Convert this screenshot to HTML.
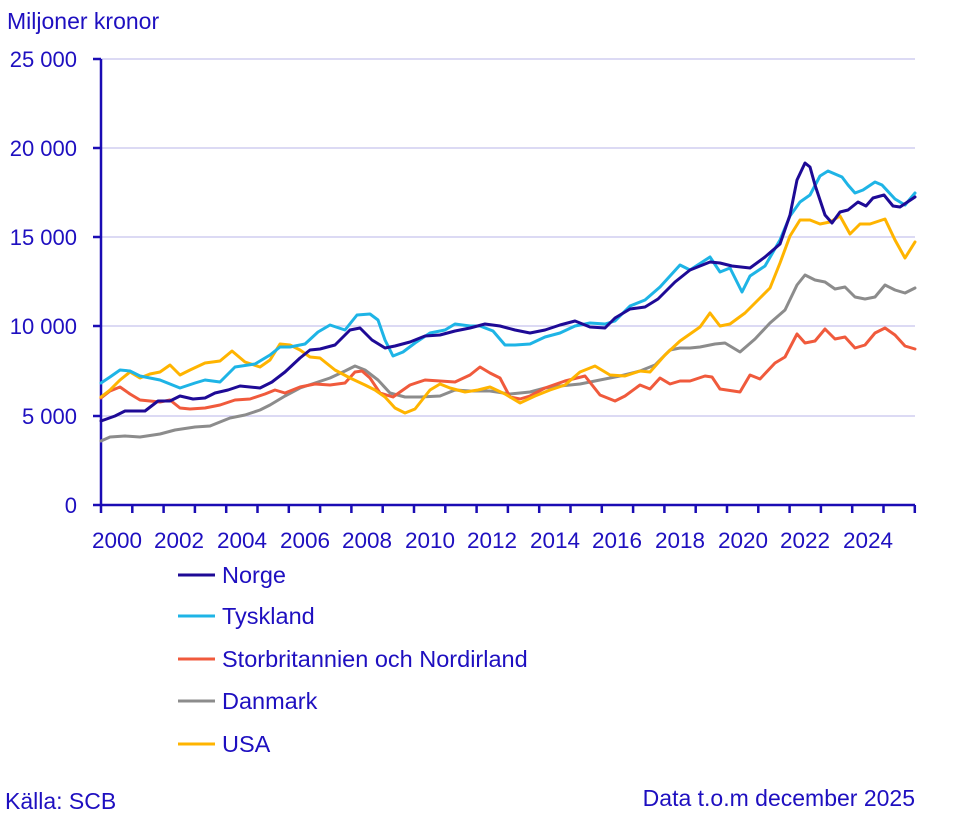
<!DOCTYPE html>
<html><head><meta charset="utf-8"><style>
body{margin:0;background:#fff;}
svg text{font-family:"Liberation Sans",sans-serif;fill:#1e0fc0;}
</style></head><body>
<svg width="953" height="819" viewBox="0 0 953 819" xmlns="http://www.w3.org/2000/svg">
<text x="7" y="29" font-size="23">Miljoner kronor</text>
<g stroke="#c8c4ee" stroke-width="1.3">
<line x1="101" y1="59" x2="915" y2="59"/><line x1="101" y1="148" x2="915" y2="148"/>
<line x1="101" y1="237" x2="915" y2="237"/><line x1="101" y1="326" x2="915" y2="326"/>
<line x1="101" y1="416" x2="915" y2="416"/>
</g>
<g font-size="22" text-anchor="end">
<text x="77" y="67">25 000</text><text x="77" y="156">20 000</text><text x="77" y="245">15 000</text>
<text x="77" y="334">10 000</text><text x="77" y="424">5 000</text><text x="77" y="513">0</text>
</g>
<g stroke="#1a0cb4" stroke-width="2.5" fill="none">
<line x1="101" y1="59" x2="101" y2="505"/><line x1="93" y1="59" x2="101" y2="59"/>
<line x1="93" y1="148" x2="101" y2="148"/><line x1="93" y1="237" x2="101" y2="237"/>
<line x1="93" y1="326" x2="101" y2="326"/><line x1="93" y1="416" x2="101" y2="416"/>
<line x1="93" y1="505" x2="915" y2="505"/>
<path d="M101 505v8M132.3 505v8M163.6 505v8M194.9 505v8M226.2 505v8M257.5 505v8M288.8 505v8M320.1 505v8M351.4 505v8M382.7 505v8M414 505v8M445.3 505v8M476.6 505v8M507.9 505v8M539.2 505v8M570.5 505v8M601.8 505v8M633.1 505v8M664.4 505v8M695.7 505v8M727 505v8M758.3 505v8M789.6 505v8M820.9 505v8M852.2 505v8M883.5 505v8M914.8 505v8"/>
</g>
<g font-size="22.5" text-anchor="middle">
<text x="117" y="548">2000</text><text x="179" y="548">2002</text><text x="242" y="548">2004</text>
<text x="305" y="548">2006</text><text x="367" y="548">2008</text><text x="430" y="548">2010</text>
<text x="492" y="548">2012</text><text x="555" y="548">2014</text><text x="617" y="548">2016</text>
<text x="680" y="548">2018</text><text x="743" y="548">2020</text><text x="805" y="548">2022</text>
<text x="868" y="548">2024</text>
</g>
<g fill="none" stroke-width="3" stroke-linejoin="round" stroke-linecap="round">
<polyline stroke="#8c8c8c" points="101,441 110,437 125,436 140,437 160,434 175,430 195,427 210,426 230,418 245,415 260,410 270,405 285,396 300,388 315,383 330,378 345,371 355,366 365,370 378,380 390,393 405,397 420,397 440,396 455,390 470,391 490,391 510,394 530,392 545,388 560,386 580,384 595,381 620,376 640,371 655,365 670,350 680,348 690,348 700,347 715,344 725,343 740,352 755,339 770,323 785,310 797,285 805,275 815,280 825,282 835,289 845,287 855,297 865,299 875,297 885,285 895,290 905,293 915,288"/>
<polyline stroke="#f05a3c" points="101,398 110,391 120,387 130,394 140,400 160,402 170,400 180,408 190,409 205,408 220,405 235,400 250,399 265,394 275,390 285,393 300,387 315,384 330,385 345,383 355,372 362,371 370,378 380,393 393,397 410,385 425,380 440,381 455,382 470,375 480,367 490,373 500,378 510,397 520,399 530,396 545,388 565,381 585,376 600,395 615,401 625,396 640,385 650,389 660,378 670,384 680,381 690,381 705,376 712,377 720,389 740,392 750,375 760,379 775,363 785,357 797,334 805,343 815,341 825,329 835,339 845,337 855,348 865,345 875,333 885,328 895,335 905,346 915,349"/>
<polyline stroke="#ffb400" points="101,397 110,390 120,380 130,372 140,378 150,374 160,372 170,365 180,375 190,370 205,363 220,361 232,351 245,362 260,367 270,360 280,344 290,345 300,350 310,357 320,358 335,370 350,378 365,385 375,390 385,397 395,408 405,413 415,409 430,390 440,384 450,388 465,392 478,390 490,387 505,394 520,403 535,396 550,390 565,385 580,372 595,366 610,375 625,376 640,371 650,372 665,355 680,341 700,327 710,313 720,326 730,324 745,313 760,298 770,288 780,263 790,236 800,220 810,220 820,224 830,222 840,216 850,234 860,224 870,224 885,219 895,240 905,258 915,242"/>
<polyline stroke="#1eb4e6" points="101,383 110,377 120,370 130,371 140,376 160,380 180,388 195,383 205,380 220,382 235,367 255,364 270,355 280,347 290,347 305,344 318,332 330,325 345,330 357,315 370,314 378,320 385,340 393,356 403,352 415,343 430,333 445,330 455,324 470,326 480,326 493,331 505,345 515,345 530,344 545,337 560,333 575,326 590,323 605,324 615,321 630,306 645,300 660,287 680,265 690,270 710,257 720,272 730,268 742,292 750,276 765,266 780,240 790,216 800,202 810,195 820,176 828,171 842,177 848,185 855,193 863,190 875,182 882,185 895,199 905,205 915,193"/>
<polyline stroke="#1e0a96" points="101,421 115,416 125,411 145,411 158,401 170,401 180,396 193,399 205,398 215,393 228,390 240,386 260,388 272,382 285,372 300,358 310,350 320,349 335,345 350,330 360,328 372,340 385,348 395,346 410,342 425,336 440,335 455,331 470,328 485,324 500,326 515,330 530,333 545,330 560,325 575,321 590,327 605,328 615,318 630,309 645,307 658,299 675,282 690,270 710,262 720,263 732,266 750,268 765,257 780,244 790,215 797,180 805,163 810,167 815,185 825,215 832,223 840,212 848,210 858,202 866,206 873,198 884,195 893,206 900,207 915,197"/>
</g>
<g stroke-width="3">
<line x1="178" y1="575" x2="215" y2="575" stroke="#1e0a96"/>
<line x1="178" y1="616" x2="215" y2="616" stroke="#1eb4e6"/>
<line x1="178" y1="659" x2="215" y2="659" stroke="#f05a3c"/>
<line x1="178" y1="701" x2="215" y2="701" stroke="#8c8c8c"/>
<line x1="178" y1="744" x2="215" y2="744" stroke="#ffb400"/>
</g>
<g font-size="23.5">
<text x="222" y="583">Norge</text><text x="222" y="624">Tyskland</text>
<text x="222" y="667">Storbritannien och Nordirland</text><text x="222" y="709">Danmark</text>
<text x="222" y="752">USA</text>
</g>
<g font-size="23">
<text x="5" y="809">Källa: SCB</text>
<text x="915" y="806" text-anchor="end">Data t.o.m december 2025</text>
</g>
</svg>
</body></html>
